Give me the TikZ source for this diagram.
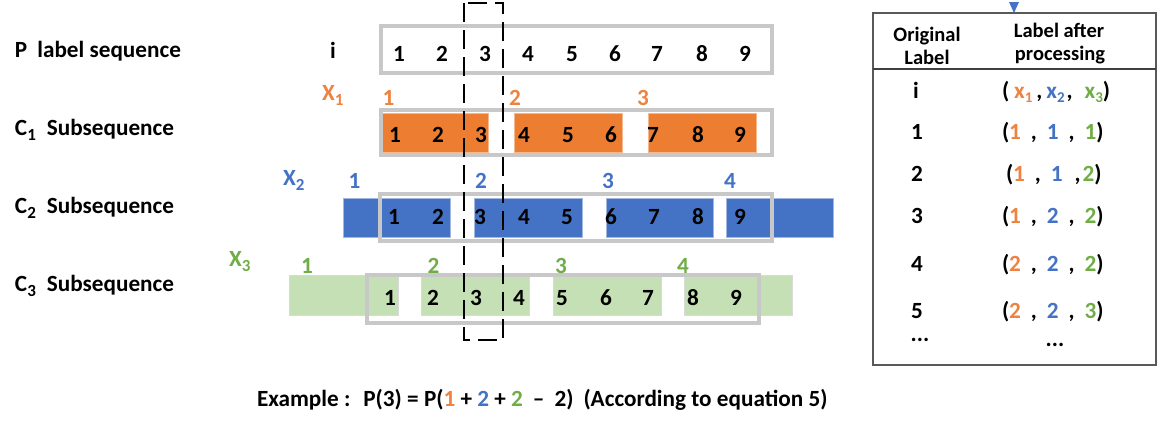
\documentclass[tikz,border=0pt]{standalone}
\usepackage{fontspec}
\setmainfont{Carlito}
\definecolor{orF}{HTML}{ED7D31}
\definecolor{orT}{HTML}{EE8240}
\definecolor{blF}{HTML}{4472C4}
\definecolor{grF}{HTML}{C5E0B4}
\definecolor{grT}{HTML}{70AD47}
\definecolor{frm}{HTML}{C8C8C8}
\definecolor{tbl}{HTML}{595959}
\newcommand\subs[1]{\raisebox{-5.8pt}{\fontsize{17}{17}\selectfont #1}}
\newcommand\tsub[1]{\raisebox{-4.2pt}{\fontsize{15}{15}\selectfont #1}}
\newcommand\gp[1]{\hspace{#1pt}}
\begin{document}
\begin{tikzpicture}[x=1pt,y=-1pt,
  every node/.style={inner sep=0pt,outer sep=0pt,font=\bfseries\fontsize{23.2}{27}\selectfont},
  lbl/.style={anchor=base west},
  num/.style={anchor=base},
  frame/.style={draw=frm,line width=4pt},
  obox/.style={fill=orF,draw=orF!55!white,line width=1pt},
  bbox/.style={fill=blF,draw=blF!50!white,line width=1pt},
  gbox/.style={fill=grF,draw=black!15,line width=1pt},
  dashbox/.style={draw=black,line width=2.8pt,dash pattern=on 19pt off 8pt},
  hdr/.style={anchor=base,font=\bfseries\fontsize{20.5}{23}\selectfont}]
\useasboundingbox (0,0) rectangle (1160,424);

% coloured blocks
\foreach \a/\b in {382/488,514/622,648/756} \draw[obox] (\a,113) rectangle (\b,152);
\foreach \a/\b in {343/450,474/582,606/713,726/833} \draw[bbox] (\a,198) rectangle (\b,237);
\foreach \a/\b in {289/398,421/529,553/661,684/792} \draw[gbox] (\a,275) rectangle (\b,315);

% grey frames
\draw[frame] (381,26) rectangle (772,73);
\draw[frame] (381,109.5) rectangle (772,154.7);
\draw[frame] (380,193.7) rectangle (772,241);
\draw[frame] (367,275.3) rectangle (758.7,323);

% left labels
\node[lbl] (lp) at (15,57) {P\gp{10}label sequence};
\node[lbl] (lc1) at (15,135) {C\subs{1}\gp{11}Subsequence};
\node[lbl] (lc2) at (15,213) {C\subs{2}\gp{11}Subsequence};
\node[lbl] (lc3) at (15,291) {C\subs{3}\gp{11}Subsequence};
\node[num] (li) at (333,58) {i};

% x labels
\node[lbl,text=orT] (x1) at (322,100) {X\subs{1}};
\node[lbl,text=blF] (x2) at (283,185) {X\subs{2}};
\node[lbl,text=grT] (x3) at (229,266) {X\subs{3}};

% numbers
\foreach \x [count=\i] in {399,442,485,528,572,615,657,702,745} \node[num] (p\i) at (\x,61) {\i};
\foreach \x [count=\i] in {395,438,481,524,568,611,653,698,740} \node[num] (a\i) at (\x,142) {\i};
\foreach \x [count=\i] in {394,438,480,524,567,611,654,698,740} \node[num] (b\i) at (\x,224) {\i};
\foreach \x [count=\i] in {390,433,476,519,562,606,648,693,736} \node[num] (c\i) at (\x,305) {\i};

% group labels
\foreach \x [count=\i] in {388.5,515,643} \node[num,text=orT] (ga\i) at (\x,105) {\i};
\foreach \x [count=\i] in {354.5,481,608,730} \node[num,text=blF] (gb\i) at (\x,188) {\i};
\foreach \x [count=\i] in {307,433.5,561,683} \node[num,text=grT] (gc\i) at (\x,273) {\i};

% dashed window
\draw[dashbox] (464,3) rectangle (503,340);

% table
\draw[tbl,line width=2.5pt] (873,13) rectangle (1156,365);
\draw[black!75,line width=2pt] (873,69) -- (1156,69);
\fill[blF] (1009,2) -- (1019,2) -- (1014,13) -- cycle;
\node[hdr] (h1) at (927,41.5) {Original};
\node[hdr] (h2) at (927,64) {Label};
\node[hdr] (h3) at (1059,37) {Label after};
\node[hdr] (h4) at (1060,60) {processing};

\node[num] (ti) at (916,98) {i};
\node[num] (t1) at (917,139) {1};
\node[num] (t2) at (917,181) {2};
\node[num] (t3) at (917,223) {3};
\node[num] (t4) at (917,271) {4};
\node[num] (t5) at (917,318) {5};
\node[num] (td) at (920,341) {...};

\node[lbl] (ri) at (1002,98) {(\gp{5}\textcolor{orT}{x\tsub{1}}\gp{4},\gp{4}\textcolor{blF}{x\tsub{2}}\gp{2},\gp{12}\textcolor{grT}{x\tsub{3}})};
\node[lbl] (r1) at (1002,139) {(\textcolor{orT}{1}\gp{10},\gp{10}\textcolor{blF}{1}\gp{10},\gp{10}\textcolor{grT}{1})};
\node[lbl] (r2) at (1006,181) {(\textcolor{orT}{1}\gp{10},\gp{10}\textcolor{blF}{1}\gp{12},\gp{2}\textcolor{grT}{2})};
\node[lbl] (r3) at (1002,223) {(\textcolor{orT}{1}\gp{10},\gp{10}\textcolor{blF}{2}\gp{10},\gp{10}\textcolor{grT}{2})};
\node[lbl] (r4) at (1002,271) {(\textcolor{orT}{2}\gp{10},\gp{10}\textcolor{blF}{2}\gp{10},\gp{10}\textcolor{grT}{2})};
\node[lbl] (r5) at (1002,318) {(\textcolor{orT}{2}\gp{10},\gp{10}\textcolor{blF}{2}\gp{10},\gp{10}\textcolor{grT}{3})};
\node[num] (rd) at (1055,346) {...};

% example
\node[lbl] (ex) at (257,406) {Example :\gp{13}P(3) = P(\textcolor{orT}{1} + \textcolor{blF}{2} + \textcolor{grT}{2}\gp{10}–\gp{10}2)\gp{10}(According to equation 5)};
\end{tikzpicture}
\end{document}
